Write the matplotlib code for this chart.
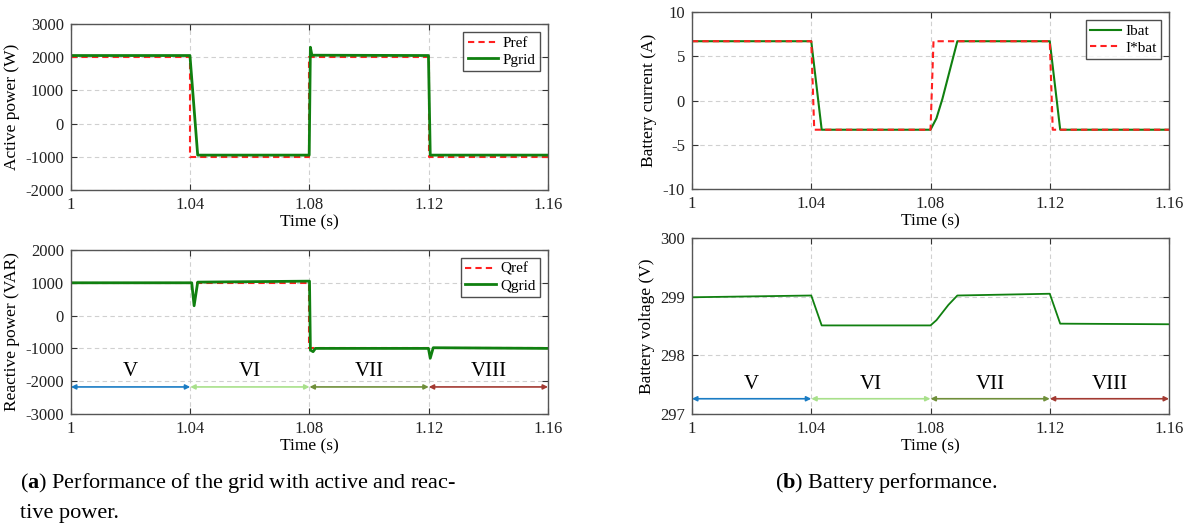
import matplotlib.pyplot as plt
import numpy as np

plt.rcParams['font.family'] = ['Liberation Serif', 'DejaVu Serif']
plt.rcParams['font.size'] = 12
plt.rcParams['axes.unicode_minus'] = False
plt.rcParams['mathtext.fontset'] = 'custom'
plt.rcParams['mathtext.rm'] = 'Liberation Serif'
plt.rcParams['mathtext.bf'] = 'Liberation Serif:bold'

# grid power (a)
t_pref = [1.0, 1.04, 1.04, 1.08, 1.08, 1.12, 1.12, 1.16]
pref = [2000, 2000, -1000, -1000, 2000, 2000, -1000, -1000]
t_pgrid = [1.0, 1.0399, 1.0425, 1.0799, 1.0803, 1.0808, 1.1199, 1.1205, 1.16]
pgrid = [2050, 2050, -950, -950, 2300, 2060, 2050, -950, -950]

t_qref = [1.0, 1.08, 1.08, 1.16]
qref = [1000, 1000, -1000, -1000]
t_qgrid = [1.0, 1.0405, 1.0413, 1.0425, 1.08, 1.0803, 1.0812, 1.082, 1.1199, 1.1205, 1.1215, 1.16]
qgrid = [1000, 1000, 300, 1020, 1050, -1050, -1100, -1000, -1000, -1300, -980, -1000]

# battery (b)
t_ibat = [1.0, 1.04, 1.0435, 1.08, 1.082, 1.084, 1.086, 1.089, 1.12, 1.1235, 1.16]
ibat = [6.7, 6.7, -3.3, -3.3, -2.0, 0.2, 2.8, 6.7, 6.7, -3.3, -3.3]
t_iref = [1.0, 1.04, 1.041, 1.08, 1.081, 1.12, 1.121, 1.16]
iref = [6.7, 6.7, -3.3, -3.3, 6.7, 6.7, -3.3, -3.3]

t_vbat = [1.0, 1.04, 1.0435, 1.08, 1.082, 1.084, 1.086, 1.089, 1.12, 1.1235, 1.16]
vbat = [298.99, 299.02, 298.51, 298.51, 298.60, 298.73, 298.86, 299.02, 299.05, 298.54, 298.53]

modes = ['V', 'VI', 'VII', 'VIII']
mode_edges = [1.0, 1.04, 1.08, 1.12, 1.16]
mode_colors = ['#1a7cc4', '#a8e08a', '#6f8f3a', '#a33a32']

xticks = [1.0, 1.04, 1.08, 1.12, 1.16]
xticklabels = ['1', '1.04', '1.08', '1.12', '1.16']

green = '#108010'
red = '#ff2020'

fig = plt.figure(figsize=(11.89, 5.32), dpi=100)
ax1 = fig.add_axes([0.0597, 0.6429, 0.4012, 0.3120])
ax2 = fig.add_axes([0.0597, 0.2218, 0.4012, 0.3083])
ax3 = fig.add_axes([0.5820, 0.6447, 0.4012, 0.3327])
ax4 = fig.add_axes([0.5820, 0.2218, 0.4012, 0.3308])


def style(ax, ylim, yticks, ylabel):
    ax.set_xlim(1.0, 1.16)
    ax.set_ylim(*ylim)
    ax.set_xticks(xticks)
    ax.set_xticklabels(xticklabels)
    ax.set_yticks(yticks)
    ax.set_xlabel('Time (s)', labelpad=1, fontsize=12.5)
    ax.set_ylabel(ylabel, fontsize=12.5)
    ax.grid(True, color='#d0d0d0', linestyle=(0, (4, 3)), linewidth=0.8)
    ax.tick_params(direction='in', top=True, right=True, length=4, color='#333333',
                   labelcolor='#222222', pad=5, labelsize=12)
    for s in ax.spines.values():
        s.set_color('#555555')
        s.set_linewidth(1.0)


def regions(ax, y_arrow, y_text):
    for i in range(4):
        ax.annotate('', xy=(mode_edges[i + 1], y_arrow), xytext=(mode_edges[i], y_arrow),
                    arrowprops=dict(arrowstyle='<|-|>', color=mode_colors[i], lw=1.2,
                                    mutation_scale=7, shrinkA=0, shrinkB=0))
        ax.text((mode_edges[i] + mode_edges[i + 1]) / 2, y_text, modes[i],
                ha='center', va='center', fontsize=15)


ax1.plot(t_pref, pref, color=red, linestyle=(0, (3, 2)), lw=1.5, label='Pref')
ax1.plot(t_pgrid, pgrid, color=green, lw=2.0, label='Pgrid')
style(ax1, (-2000, 3000), [-2000, -1000, 0, 1000, 2000, 3000], 'Active power (W)')

ax2.plot(t_qref, qref, color=red, linestyle=(0, (3, 2)), lw=1.5, label='Qref')
ax2.plot(t_qgrid, qgrid, color=green, lw=2.0, label='Qgrid')
style(ax2, (-3000, 2000), [-3000, -2000, -1000, 0, 1000, 2000], 'Reactive power (VAR)')
regions(ax2, -2175, -1690)

ax3.plot(t_ibat, ibat, color=green, lw=1.5, label='Ibat')
ax3.plot(t_iref, iref, color=red, linestyle=(0, (3, 2)), lw=1.5, label='I*bat')
style(ax3, (-10, 10), [-10, -5, 0, 5, 10], 'Battery current (A)')

ax4.plot(t_vbat, vbat, color=green, lw=1.3)
style(ax4, (297, 300), [297, 298, 299, 300], 'Battery voltage (V)')
regions(ax4, 297.26, 297.5)

for ax in (ax1, ax2, ax3):
    leg = ax.legend(loc='upper right', fontsize=11, frameon=True, fancybox=False,
                    handlelength=2.0, handletextpad=0.3, borderpad=0.3,
                    labelspacing=0.2, borderaxespad=0.5)
    leg.get_frame().set_edgecolor('#222222')
    leg.get_frame().set_linewidth(1.0)

fig.text(0.017, 0.093, r'($\mathbf{a}$) Performance of the grid with active and reac-', fontsize=16, va='center')
fig.text(0.017, 0.035, 'tive power.', fontsize=16, va='center')
fig.text(0.652, 0.093, r'($\mathbf{b}$) Battery performance.', fontsize=16, va='center')

fig.savefig('out.png', dpi=100)
